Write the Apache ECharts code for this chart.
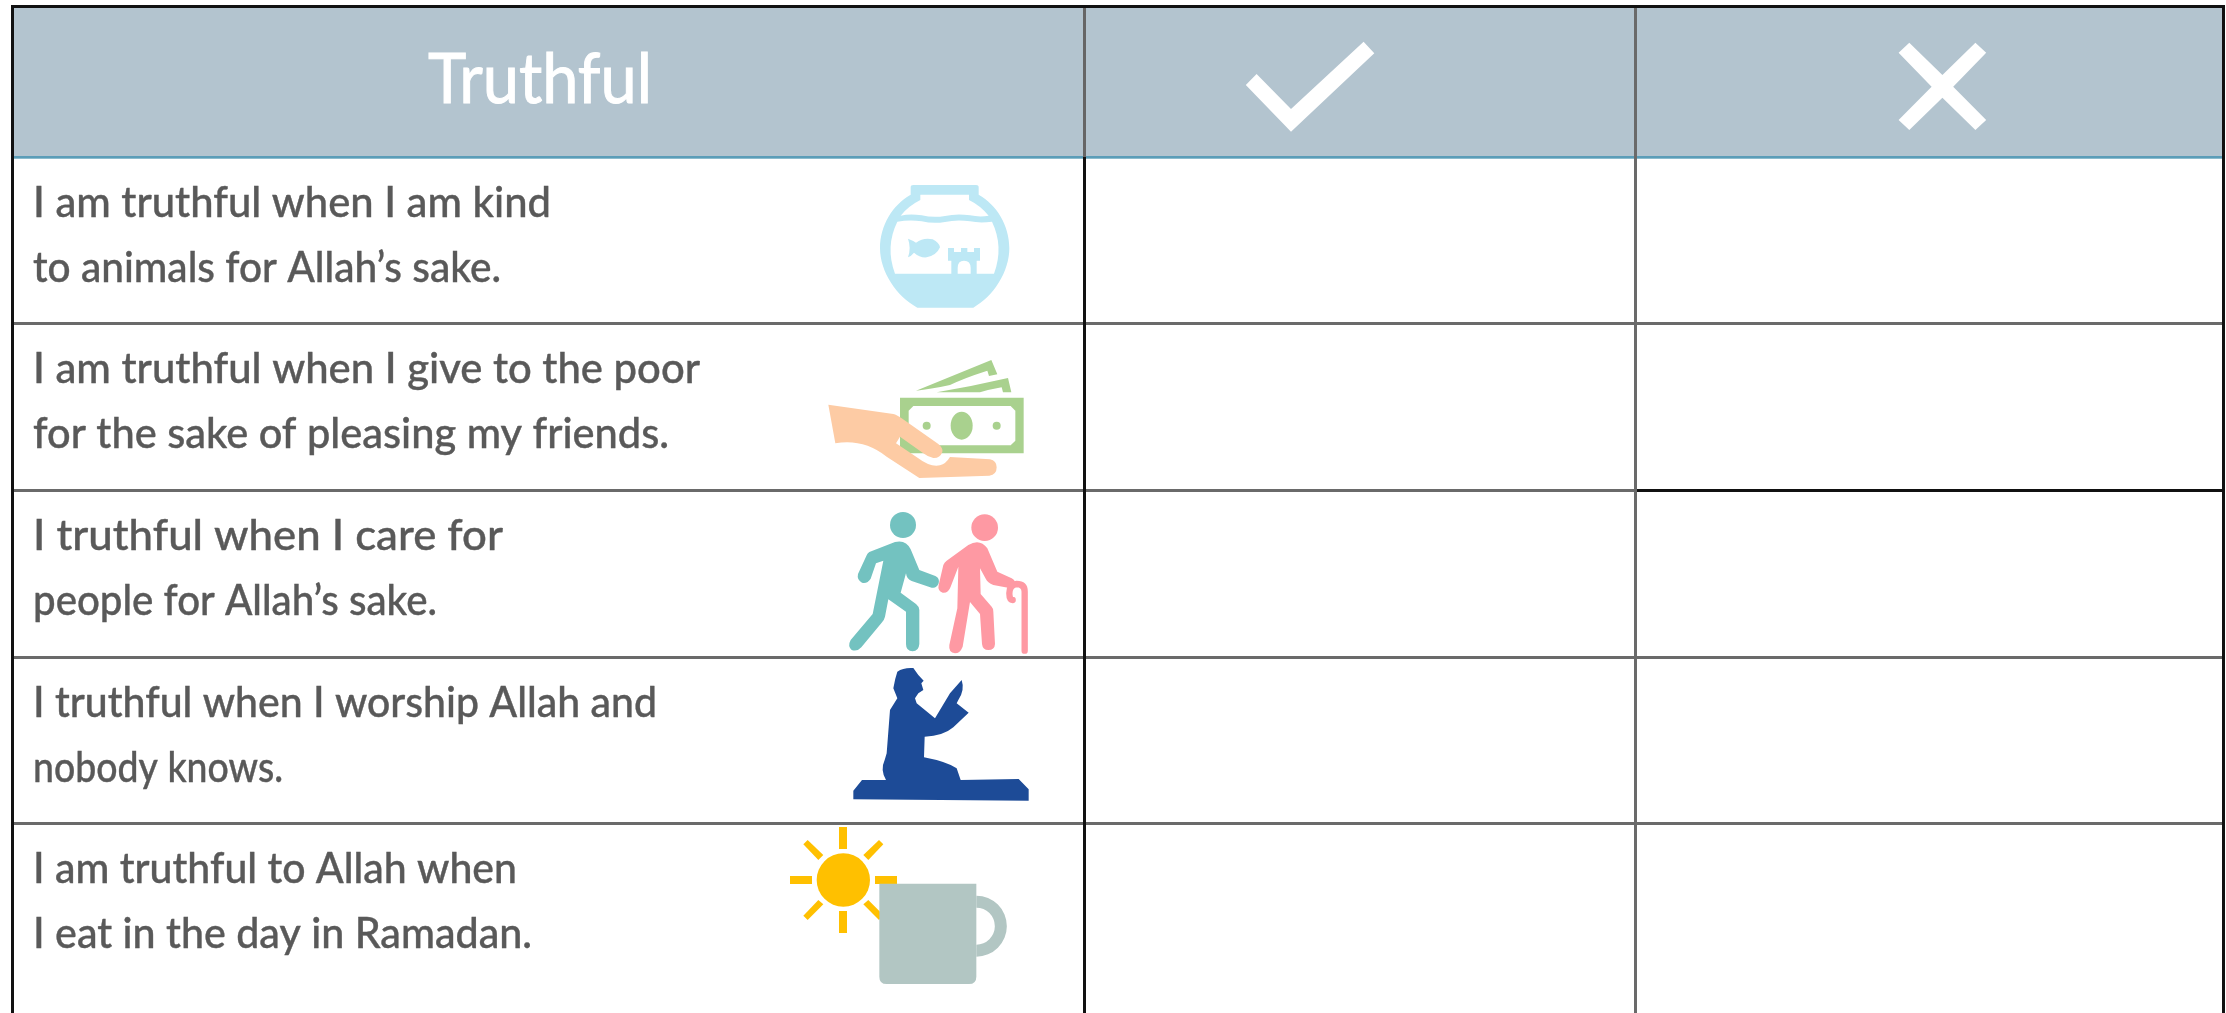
<!DOCTYPE html>
<html>
<head>
<meta charset="utf-8">
<title>Truthful</title>
<style>
  html, body { margin: 0; padding: 0; background: #fff; }
  #chart { width: 2226px; height: 1013px; }
</style>
<script src="https://cdn.jsdelivr.net/npm/echarts@6/dist/echarts.min.js"></script>
</head>
<body>
<div id="chart"></div>
<script>
// table content
var headerTitle = 'Truthful';
var firstLines = [
  'I am truthful when I am kind',
  'I am truthful when I give to the poor',
  'I truthful when I care for',
  'I truthful when I worship Allah and',
  'I am truthful to Allah when'
];
var secondLines = [
  'to animals for Allah\u2019s sake.',
  'for the sake of pleasing my friends.',
  'people for Allah\u2019s sake.',
  'nobody knows.',
  'I eat in the day in Ramadan.'
];

// layout, the axes below run 1:1 with the pixels of the page
var W = 2226, H = 1013;
var colEdges = [13, 1085, 1635, 2223];
var rowEdges = [157, 323, 490, 657, 823];
var textFont = '500 43px Lato';
var textLeft = 33;
var firstWidths = [518, 667, 470, 624, 484];
var secondWidths = [468, 636, 404, 250, 499];

var bowl = '#bde8f5', green = '#a9d18e', hand = '#fdcba4', teal = '#73c2c0', pink = '#fe99a3',
  navy = '#1d4b97', sun = '#ffc000', mug = '#b2c6c3';
var circle = function(cx, cy, rx, ry){
  ry = ry || rx;
  return 'M' + (cx - rx) + ' ' + cy + 'A' + rx + ' ' + ry + ' 0 1 1 ' + (cx + rx) + ' ' + cy +
    'A' + rx + ' ' + ry + ' 0 1 1 ' + (cx - rx) + ' ' + cy + 'Z';
};
var icons = [
  // fish bowl
  {x: 780, y: 130, parts: [
    {fill: bowl, d: 'M392 172Q392 165 400 165L588 165Q596 165 596 172L596 194C650 225 688 285 688 355C688 425 640 500 580 533L412 533C350 500 300 425 300 355C300 285 338 225 392 194Z'},
    {fill: '#fff', d: 'M421 194L567 194L567 210Q600 226 626 257Q600 262 570 256Q530 250 495 258Q460 264 425 256Q390 250 362 257Q385 228 421 210Z'},
    {fill: '#fff', d: 'M352 275Q390 268 425 274Q460 282 495 276Q530 268 570 274Q600 280 636 275Q672 350 642 431L345 431Q315 350 352 275Z'},
    {fill: bowl, d: 'M384 326Q400 332 408 338Q430 322 458 328Q478 338 480 352Q470 376 440 382Q420 384 402 368Q394 378 384 382Q394 354 384 326Z'},
    {fill: bowl, d: 'M504 354L522 354L522 366L543 366L543 354L562 354L562 366L582 366L582 354L600 354L600 392L590 392L590 432L572 432L572 414Q572 392 552 392Q533 392 533 414L533 432L514 432L514 392L504 392Z'}
  ]},
  // hand with money
  {x: 780, y: 130, parts: [
    {fill: green, d: 'M360 803L731 803L731 970L360 970Z'},
    {fill: '#fff', d: 'M400 828L692 828L706 842L706 932L692 946L400 946L386 932L386 842Z'},
    {fill: green, d: circle(545, 887, 33, 42)},
    {fill: green, d: circle(440, 887, 12)},
    {fill: green, d: circle(650, 887, 12)},
    {fill: green, d: 'M634 690L652 733L627 738L622 722Q550 745 510 765Q450 778 408 782Z'},
    {fill: green, d: 'M684 744L694 787L669 787L665 772Q630 778 600 787L470 787Q580 768 684 744Z'},
    {fill: hand, d: 'M145 824L340 852Q350 854 365 865L475 942Q490 955 487 966Q480 985 460 984Q445 982 430 970L360 920L348 940L415 985Q450 1012 480 1006Q497 1002 510 981L630 988Q650 992 650 1012Q650 1034 628 1037L418 1044L320 980Q250 925 166 940Z'}
  ]},
  // two people walking
  {x: 780, y: 490, parts: [
    {fill: teal, d: circle(369, 105, 39)},
    {fill: teal, d: 'M268 186L345 156Q378 148 392 178L418 240L466 258Q480 265 476 280Q470 296 455 293L395 273Q380 268 378 250L362 308L408 342Q418 350 418 360L418 462Q416 484 398 484Q378 484 378 462L378 365L325 328L315 380Q312 392 305 398L244 472Q232 486 215 480Q202 468 212 450L278 372L310 212L288 220L272 266Q262 282 246 278Q230 270 234 252L260 196Q262 190 268 186Z'},
    {fill: pink, d: circle(614, 113, 40)},
    {fill: pink, d: 'M500 212L565 165Q600 145 622 175L652 245L695 265Q708 272 705 284Q700 298 688 294L640 285Q622 278 618 268L600 235L602 312L635 350Q640 355 640 365L645 462Q644 480 625 480Q608 480 606 462L600 372L570 336L548 470Q540 490 525 490Q505 488 508 465L532 355L535 230L512 290Q505 310 488 308Q472 302 476 285L490 225Q494 216 500 212Z'},
    {stroke: pink, width: 19, d: 'M734 482L734 305Q734 282 710 282Q688 285 688 310Q688 330 698 330'}
  ]},
  // man praying on a mat
  {x: 780, y: 490, parts: [
    {fill: navy, d: 'M352 545Q370 532 400 534L415 555L431 572L424 580L430 600L415 610L405 625L410 640L465 685L510 610L545 570Q555 600 535 630L530 640L566 668L520 712Q490 738 434 740L432 802Q500 815 530 835L542 870L716 867L746 898L746 932L220 928L220 902L246 870L318 870Q300 840 314 810L320 790L330 660L352 625L340 595Q345 565 352 545Z'}
  ]},
  // sun and mug
  {x: 760, y: 800, parts: [
    {fill: sun, d: circle(250, 240, 80)},
    {fill: sun, d: 'M237 81L261 81L261 147L237 147Z'},
    {fill: sun, d: 'M237 333L261 333L261 399L237 399Z'},
    {fill: sun, d: 'M90 228L156 228L156 252L90 252Z'},
    {fill: sun, d: 'M345 228L411 228L411 252L345 252Z'},
    {fill: sun, d: 'M143 120L190 165L175 180L130 133Z'},
    {fill: sun, d: 'M357 120L370 133L325 180L310 165Z'},
    {fill: sun, d: 'M175 300L190 313L143 360L130 347Z'},
    {fill: sun, d: 'M325 300L370 345L357 360L310 313Z'},
    {fill: mug, d: 'M358 251L649 251L649 530Q649 552 627 552L380 552Q358 552 358 530Z'},
    {fill: mug, d: 'M649 287A91.5 91.5 0 0 1 649 470L649 434A55.5 55.5 0 0 0 649 323Z'}
  ]}
];
// header marks, already in page pixels
var checkMark = 'M1256.6 74L1245.8 85L1291 131.7L1374.3 53.3L1363.6 41.7L1291 109Z';
var crossMark = 'M1909.3 42.7L1898.6 52.7L1931.6 86.7L1898.6 120L1909.3 130L1942.4 97.7L1975.4 130L1986.2 120L1953.2 86.7L1986.2 52.7L1975.4 42.7L1942.4 75Z';

var chart = echarts.init(document.getElementById('chart'));

var rect = function(api, x1, y1, x2, y2, fill){
  var a = api.coord([x1, y1]), b = api.coord([x2, y2]);
  return {type: 'rect', shape: {x: a[0], y: a[1], width: b[0] - a[0], height: b[1] - a[1]}, style: {fill: fill}};
};
// measure so a line can be squeezed to the width it has in the picture
var ruler = document.createElement('canvas').getContext('2d');
var fitScale = function(str, font, width){
  ruler.font = font;
  return width / ruler.measureText(str).width;
};
// zrender places text by its top, so y comes in as top of the line
var textEl = function(api, x, y, str, font, align, width, weight){
  var p = api.coord([x, y]);
  return {
    type: 'text', x: p[0], y: p[1], scaleX: fitScale(str, font, width), scaleY: 1,
    style: {text: str, font: font, fill: weight.fill, stroke: weight.fill, lineWidth: weight.line, textAlign: align, textVerticalAlign: 'top'}
  };
};

chart.setOption({
  animation: false,
  grid: {left: 0, right: 0, top: 0, bottom: 0},
  xAxis: {type: 'value', min: 0, max: W, show: false},
  yAxis: {type: 'value', min: 0, max: H, inverse: true, show: false},
  series: [
    // header band and the grid lines
    {
      type: 'custom', silent: true, z: 1, data: [0],
      renderItem: function(params, api){
        var kids = [rect(api, colEdges[0], 6, colEdges[3], rowEdges[0], '#b3c4cf')];
        kids.push(rect(api, colEdges[0], 156, colEdges[3], 158, '#5b9db8'));
        kids.push(rect(api, colEdges[0], 158, colEdges[3], 159, '#8cbccd'));
        rowEdges.slice(1).forEach(function(y){
          kids.push(rect(api, colEdges[0], y - 1, colEdges[3], y + 2, '#6a6a6a'));
        });
        kids.push(rect(api, 1636, 489, colEdges[3], 492, '#111'));
        kids.push(rect(api, 1083, 6, 1086, rowEdges[0], '#666'));
        kids.push(rect(api, 1083, rowEdges[0], 1086, H, '#111'));
        kids.push(rect(api, 1634, 6, 1637, H, '#6a6a6a'));
        kids.push(rect(api, 11, 5, 14, H, '#111'));
        kids.push(rect(api, 2222, 5, 2225, H, '#111'));
        kids.push(rect(api, 11, 5, 2225, 8, '#111'));
        return {type: 'group', children: kids};
      }
    },
    // header title and the two marks
    {
      type: 'custom', silent: true, z: 2, data: [0],
      renderItem: function(params, api){
        var o = api.coord([0, 0]);
        return {type: 'group', children: [
          textEl(api, 540, 45, headerTitle, '400 70px Lato', 'center', 224, {fill: '#fff', line: 1}),
          {type: 'path', x: o[0], y: o[1], shape: {pathData: checkMark}, style: {fill: '#fff'}},
          {type: 'path', x: o[0], y: o[1], shape: {pathData: crossMark}, style: {fill: '#fff'}}
        ]};
      }
    },
    // one item per row: the two text lines
    {
      type: 'custom', silent: true, z: 3, data: firstLines.map(function(s, i){ return i; }),
      renderItem: function(params, api){
        var i = params.dataIndex, top = rowEdges[i], w = {fill: '#595959', line: 0.4};
        return {type: 'group', children: [
          textEl(api, textLeft, top + 25, firstLines[i], textFont, 'left', firstWidths[i], w),
          textEl(api, textLeft, top + 90, secondLines[i], textFont, 'left', secondWidths[i], w)
        ]};
      }
    },
    // one item per row: the icon
    {
      type: 'custom', silent: true, z: 4, data: icons.map(function(s, i){ return i; }),
      renderItem: function(params, api){
        var ic = icons[params.dataIndex], o = api.coord([ic.x, ic.y]);
        return {
          type: 'group', x: o[0], y: o[1], scaleX: 1 / 3, scaleY: 1 / 3,
          children: ic.parts.map(function(p){
            return {
              type: 'path', shape: {pathData: p.d},
              style: p.stroke
                ? {fill: 'none', stroke: p.stroke, lineWidth: p.width, lineCap: 'round', lineJoin: 'round'}
                : {fill: p.fill}
            };
          })
        };
      }
    }
  ]
});
window.onresize = chart.resize;
</script>
</body>
</html>
